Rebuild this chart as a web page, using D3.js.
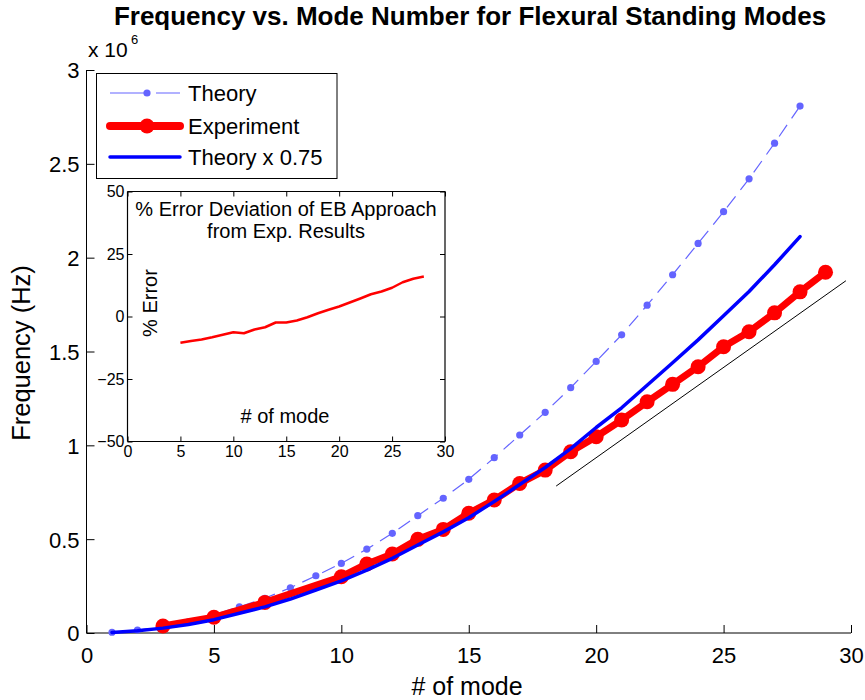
<!DOCTYPE html>
<html>
<head>
<meta charset="utf-8">
<script src="https://cdn.jsdelivr.net/npm/d3@7"></script>
<style>
  html, body { margin: 0; padding: 0; background: #fff; }
  svg { display: block; }
  text { font-family: "Liberation Sans", Arial, Helvetica, sans-serif; fill: #000; }
</style>
</head>
<body>
<svg id="chart" width="865" height="700"></svg>
<script>
// ---------------- Data (frequencies in Hz) ----------------
const theoryModes = [1,2,3,4,5,6,7,8,9,10,11,12,13,14,15,16,17,18,19,20,21,22,23,24,25,26,27,28];
const theoryHz = [4000,16000,35000,60000,97000,140000,185000,241000,305000,371000,447000,531000,625000,718000,
  819000,934000,1055000,1176000,1307000,1447000,1589000,1747000,1909000,2076000,2245000,2420000,2610000,2808000];

const scaledModes = [1,2,3,4,5,6,7,8,9,10,11,12,13,14,15,16,17,18,19,20,21,22,23,24,25,26,27,28];
const scaledHz = [3000,12000,26000,45000,71000,105000,139000,181000,229000,278000,335000,398000,469000,539000,
  614000,701000,791000,882000,982000,1095000,1200000,1320000,1440000,1562000,1690000,1820000,1962000,2112000];

const expModes = [3,5,7,10,11,12,13,14,15,16,17,18,19,20,21,22,23,24,25,26,27,28,29];
const expHz = [37000,84000,163000,300000,368000,421000,499000,552000,638000,709000,797000,868000,966000,
  1046000,1135000,1232000,1325000,1419000,1525000,1605000,1706000,1818000,1922000];

const refModes = [18.43, 29.8];
const refHz = [783000, 1877000];

const errModes = [5,6,7,8,9,10,11,12,13,14,15,16,17,18,19,20,21,22,23,24,25,26,27,28];
const errPct = [-10.5,-9.8,-9.2,-8.3,-7.3,-6.3,-6.7,-5.2,-4.3,-2.4,-2.4,-1.6,-0.3,1.3,2.7,4.0,5.6,7.2,8.9,10.0,11.5,13.7,15.1,16.0];

const xTicks = [0,5,10,15,20,25,30];
const yTicks = [0,500000,1000000,1500000,2000000,2500000,3000000];
const insetXTicks = [0,5,10,15,20,25,30];
const insetYTicks = [-50,-25,0,25,50];

const legendLabels = ["Theory", "Experiment", "Theory x 0.75"];

// ---------------- Setup ----------------
const svg = d3.select("#chart");
const C_THEORY = "#6464ff", C_EXP = "#ff0000", C_SCALED = "#0000ff";

const x = d3.scaleLinear().domain([0, 30]).range([86.5, 851]);
const y = d3.scaleLinear().domain([0, 3000000]).range([633, 70]);

const pts = (xs, ys) => xs.map((v, i) => [v, ys[i]]);
const line = d3.line().x(d => x(d[0])).y(d => y(d[1]));

// ---------------- Main axes ----------------
const xAxis = d3.axisBottom(x).tickValues(xTicks).tickSize(-8).tickPadding(14).tickFormat(d3.format("d"));
const gx = svg.append("g").attr("transform", "translate(0,633)").call(xAxis);
const yAxis = d3.axisLeft(y).tickValues(yTicks).tickSize(-8).tickPadding(7).tickFormat(d => d3.format("~g")(d / 1e6));
const gy = svg.append("g").attr("transform", "translate(86.5,0)").call(yAxis);
[gx, gy].forEach(g => {
  g.select(".domain").attr("stroke", "#000").attr("stroke-width", 1);
  g.selectAll(".tick line").attr("stroke", "#000").attr("stroke-width", 1);
  g.selectAll(".tick text").style("font-size", "22px").attr("fill", "#000");
});
gx.selectAll(".domain").attr("d", `M${x(0)},0H${x(30)}`);
gy.selectAll(".domain").attr("d", `M0,${y(3000000)}V${y(0)}`);
gy.selectAll(".tick text").attr("dy", "0.36em");

// multiplier
svg.append("text").attr("x", 88).attr("y", 57).style("font-size", "21px").text("x 10");
svg.append("text").attr("x", 131).attr("y", 44).style("font-size", "13px").text("6");

// title and labels
svg.append("text").attr("x", 470).attr("y", 25).attr("text-anchor", "middle")
  .style("font-size", "26px").style("font-weight", "bold")
  .text("Frequency vs. Mode Number for Flexural Standing Modes");
svg.append("text").attr("x", 467).attr("y", 695).attr("text-anchor", "middle")
  .style("font-size", "25px").text("# of mode");
svg.append("text").attr("transform", "translate(30,353) rotate(-90)").attr("text-anchor", "middle")
  .style("font-size", "25.5px").text("Frequency (Hz)");

// ---------------- Series ----------------
const plot = svg.append("g");
// Theory: thin dashed with dots
plot.append("path").datum(pts(theoryModes, theoryHz)).attr("d", line)
  .attr("fill", "none").attr("stroke", C_THEORY).attr("stroke-width", 1.2).attr("stroke-dasharray", "14,8");
plot.selectAll("circle.th").data(pts(theoryModes, theoryHz)).join("circle").attr("class", "th")
  .attr("cx", d => x(d[0])).attr("cy", d => y(d[1])).attr("r", 3.6).attr("fill", C_THEORY);

// Reference black line
plot.append("path").datum(pts(refModes, refHz)).attr("d", line)
  .attr("fill", "none").attr("stroke", "#000").attr("stroke-width", 1);

// Experiment
plot.append("path").datum(pts(expModes, expHz)).attr("d", line)
  .attr("fill", "none").attr("stroke", C_EXP).attr("stroke-width", 7).attr("stroke-linejoin", "round").attr("stroke-linecap", "round");
plot.selectAll("circle.ex").data(pts(expModes, expHz)).join("circle").attr("class", "ex")
  .attr("cx", d => x(d[0])).attr("cy", d => y(d[1])).attr("r", 7.5).attr("fill", C_EXP);

// Theory x 0.75
plot.append("path").datum(pts(scaledModes, scaledHz)).attr("d", line)
  .attr("fill", "none").attr("stroke", C_SCALED).attr("stroke-width", 3.5).attr("stroke-linejoin", "round").attr("stroke-linecap", "round");

// ---------------- Legend ----------------
const lg = svg.append("g");
lg.append("rect").attr("x", 96.5).attr("y", 73.5).attr("width", 240.5).attr("height", 105)
  .attr("fill", "#fff").attr("stroke", "#000").attr("stroke-width", 1);
const lgY = [93, 126, 157];
// theory sample
lg.append("line").attr("x1", 110).attr("x2", 180).attr("y1", lgY[0]).attr("y2", lgY[0])
  .attr("stroke", C_THEORY).attr("stroke-width", 1.2).attr("stroke-dasharray", "35,11");
lg.append("circle").attr("cx", 147).attr("cy", lgY[0]).attr("r", 3.6).attr("fill", C_THEORY);
// experiment sample
lg.append("line").attr("x1", 110).attr("x2", 180).attr("y1", lgY[1]).attr("y2", lgY[1])
  .attr("stroke", C_EXP).attr("stroke-width", 8).attr("stroke-linecap", "round");
lg.append("circle").attr("cx", 147).attr("cy", lgY[1]).attr("r", 7.5).attr("fill", C_EXP);
// scaled sample
lg.append("line").attr("x1", 110).attr("x2", 180).attr("y1", lgY[2]).attr("y2", lgY[2])
  .attr("stroke", C_SCALED).attr("stroke-width", 3.5).attr("stroke-linecap", "round");
lg.selectAll("text.lt").data(legendLabels).join("text").attr("class", "lt")
  .attr("x", 188).attr("y", (d, i) => lgY[i] + 8).style("font-size", "22px").text(d => d);

// ---------------- Inset ----------------
const ix = d3.scaleLinear().domain([0, 30]).range([127.5, 445]);
const iy = d3.scaleLinear().domain([-50, 50]).range([441.5, 191.5]);
const inset = svg.append("g");
inset.append("rect").attr("x", ix(0)).attr("y", iy(50)).attr("width", ix(30) - ix(0)).attr("height", iy(-50) - iy(50))
  .attr("fill", "#fff").attr("stroke", "none");

const ixAxis = d3.axisBottom(ix).tickValues(insetXTicks).tickSize(-5).tickPadding(4).tickFormat(d3.format("d"));
const ixTop = d3.axisTop(ix).tickValues(insetXTicks).tickSize(-5).tickFormat("");
const iyAxis = d3.axisLeft(iy).tickValues(insetYTicks).tickSize(-5).tickPadding(3).tickFormat(d3.format("d"));
const iyRight = d3.axisRight(iy).tickValues(insetYTicks).tickSize(-5).tickFormat("");
const gix = inset.append("g").attr("transform", `translate(0,${iy(-50)})`).call(ixAxis);
const gixT = inset.append("g").attr("transform", `translate(0,${iy(50)})`).call(ixTop);
const giy = inset.append("g").attr("transform", `translate(${ix(0)},0)`).call(iyAxis);
const giyR = inset.append("g").attr("transform", `translate(${ix(30)},0)`).call(iyRight);
[gix, gixT, giy, giyR].forEach(g => {
  g.select(".domain").attr("stroke", "#000").attr("stroke-width", 1.2);
  g.selectAll(".tick line").attr("stroke", "#000");
  g.selectAll(".tick text").style("font-size", "16px").attr("fill", "#000");
});
[gix, gixT].forEach(g => g.select(".domain").attr("d", `M${ix(0)},0H${ix(30)}`));
[giy, giyR].forEach(g => g.select(".domain").attr("d", `M0,${iy(50)}V${iy(-50)}`));

inset.append("path").datum(pts(errModes, errPct))
  .attr("d", d3.line().x(d => ix(d[0])).y(d => iy(d[1])))
  .attr("fill", "none").attr("stroke", C_EXP).attr("stroke-width", 2.5).attr("stroke-linejoin", "round");

inset.append("text").attr("x", 286).attr("y", 216).attr("text-anchor", "middle").style("font-size", "20px")
  .text("% Error Deviation of EB Approach");
inset.append("text").attr("x", 286).attr("y", 238).attr("text-anchor", "middle").style("font-size", "20px")
  .text("from Exp. Results");
inset.append("text").attr("x", 285).attr("y", 423).attr("text-anchor", "middle").style("font-size", "20px")
  .text("# of mode");
inset.append("text").attr("transform", "translate(157,303) rotate(-90)").attr("text-anchor", "middle")
  .style("font-size", "20px").text("% Error");
</script>
</body>
</html>
